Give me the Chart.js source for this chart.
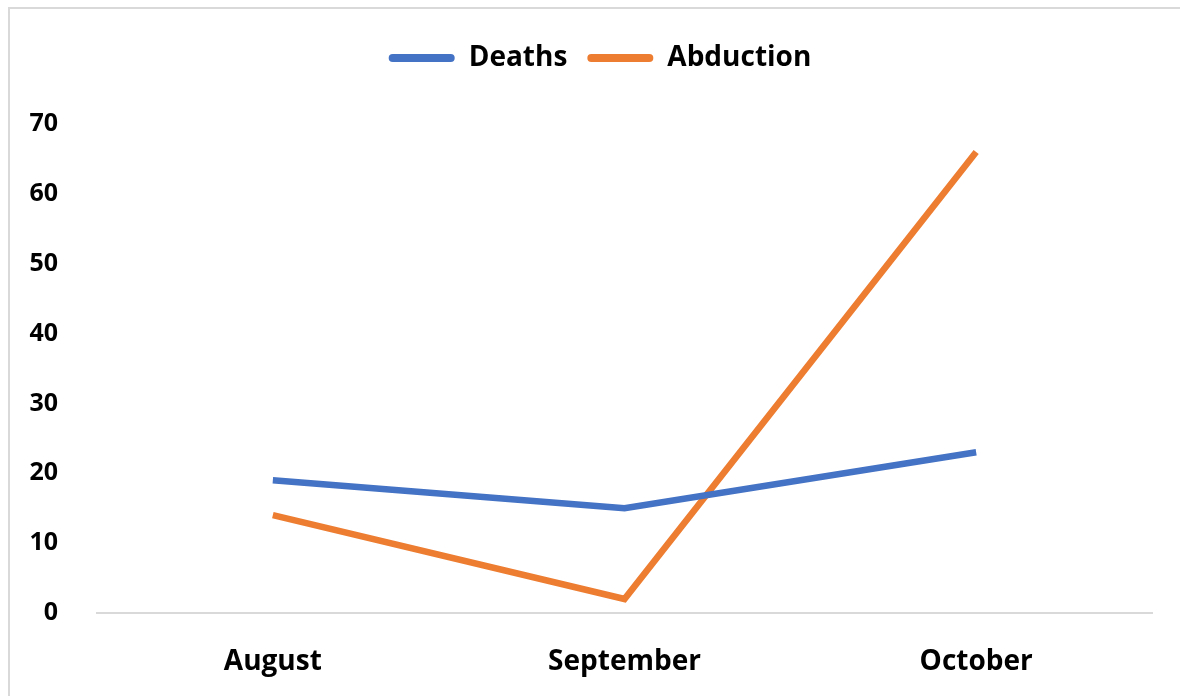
<!DOCTYPE html>
<html>
<head>
<meta charset="utf-8">
<script src="https://cdn.jsdelivr.net/npm/chart.js@4"></script>
<style>
  html, body { margin: 0; padding: 0; background: #fff; }
  body { width: 1180px; height: 696px; position: relative; overflow: hidden; }
  #frame { position: absolute; left: 8px; top: 7px; width: 1200px; height: 720px; border: 2px solid #d9d9d9; box-sizing: border-box; }
  #wrap { position: absolute; left: 0; top: 0; width: 1180px; height: 696px; }
</style>
</head>
<body>
<div id="frame"></div>
<div id="wrap"><canvas id="chart"></canvas></div>
<script>
const months = ['August', 'September', 'October'];
const deaths = [19, 15, 23];
const abduction = [14, 2, 66];
const yTicks = [0, 10, 20, 30, 40, 50, 60, 70];

const FONT = '"Open Sans", Lato, sans-serif';

// extra room under the legend, and nudge it right like the original
const legendMargin = {
    id: 'legendMargin',
    beforeInit(chart) {
        const fit = chart.legend.fit;
        chart.legend.fit = function () {
            fit.bind(chart.legend)();
            this.height += 42;
        };
    },
    afterLayout(chart) {
        chart.legend.left += 24;
        chart.legend.right += 24;
    },
};

const canvas = document.getElementById('chart');
new Chart(canvas, {
    type: 'line',
    data: {
        labels: months,
        datasets: [
            {
                label: 'Deaths',
                data: deaths,
                borderColor: '#4472C4',
                backgroundColor: '#4472C4',
                borderWidth: 6.5,
                pointRadius: 0,
                tension: 0,
            },
            {
                label: 'Abduction',
                data: abduction,
                borderColor: '#ED7D31',
                backgroundColor: '#ED7D31',
                borderWidth: 6.5,
                pointRadius: 0,
                tension: 0,
            },
        ],
    },
    options: {
        responsive: true,
        maintainAspectRatio: false,
        animation: false,
        layout: { padding: { left: 0, right: 28, top: 24, bottom: 0 } },
        plugins: {
            tooltip: { enabled: false },
            legend: {
                position: 'top',
                labels: {
                    color: '#000',
                    font: { family: FONT, size: 28, weight: 'bold' },
                    boxWidth: 66,
                    boxHeight: 8,
                    useBorderRadius: true,
                    borderRadius: 4,
                    padding: 20,
                    generateLabels(chart) {
                        const items = Chart.defaults.plugins.legend.labels.generateLabels(chart);
                        items.forEach(it => { it.lineWidth = 0; });
                        return items;
                    },
                },
            },
        },
        scales: {
            x: {
                offset: true,
                grid: { display: false },
                border: { color: '#d9d9d9', width: 2 },
                ticks: {
                    color: '#000',
                    font: { family: FONT, size: 28, weight: 'bold' },
                    padding: 24,
                },
                afterFit(scale) { scale.height = 83; },
            },
            y: {
                min: 0,
                max: 70,
                afterBuildTicks(scale) { scale.ticks = yTicks.map(v => ({ value: v })); },
                grid: { display: false },
                border: { display: false },
                ticks: {
                    color: '#000',
                    font: { family: FONT, size: 25, weight: 'bold' },
                    padding: 31,
                },
                afterFit(scale) { scale.width = 97; },
            },
        },
    },
    plugins: [legendMargin],
});
</script>
</body>
</html>
